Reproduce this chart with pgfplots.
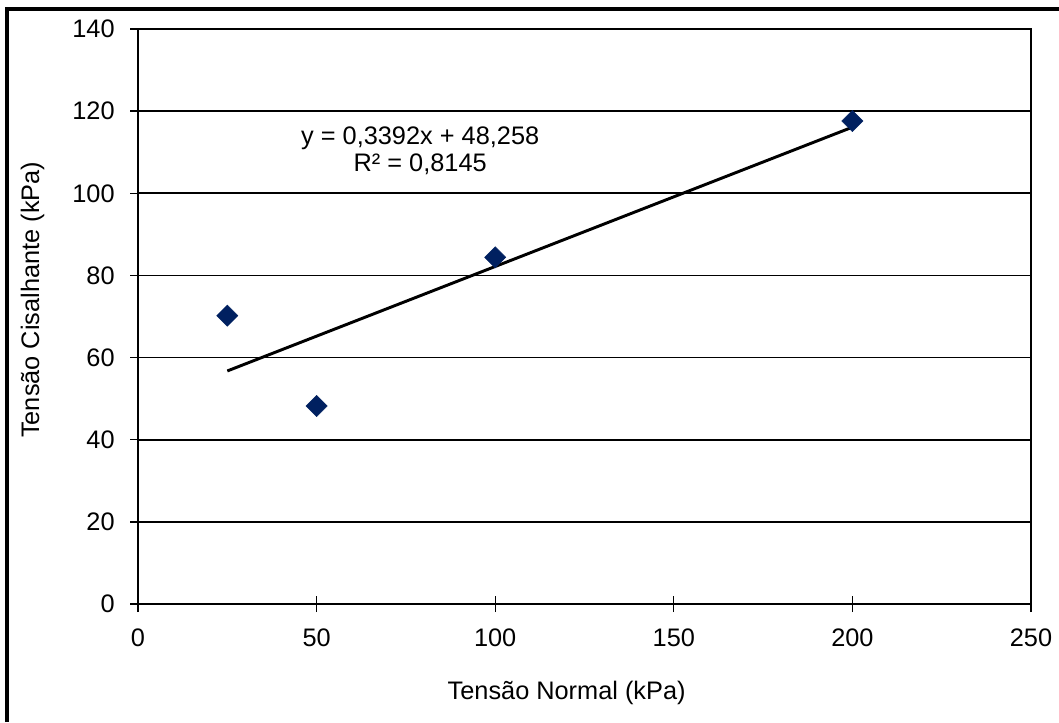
\documentclass[border=0pt]{standalone}
\usepackage{fontspec}
\setmainfont{Liberation Sans}
\usepackage{pgfplots}
\pgfplotsset{compat=1.18}
\definecolor{navy}{RGB}{0,32,96}
\begin{document}
\fontsize{19}{22}\selectfont
\begin{tikzpicture}
\path[use as bounding box] (0,0) rectangle (794.25pt,541.5pt);
\draw[line width=3pt] (5.6pt,0) -- (5.6pt,534.5pt) -- (794.25pt,534.5pt);
\begin{axis}[
  at={(103.5pt,88.5pt)}, anchor=south west,
  width=669.75pt, height=431.25pt, scale only axis,
  xmin=0, xmax=250, ymin=0, ymax=140,
  xtick={0,50,...,250}, ytick={0,20,...,140},
  ymajorgrids, grid style={black, line width=1.3pt},
  axis line style={line width=1.3pt},
  tick style={black, line width=1pt},
  tick align=center, major tick length=12pt,
  tick pos=left,
  /pgf/number format/assume math mode=true,
  ticklabel style={font=\fontsize{19}{22}\selectfont},
  yticklabel style={xshift=-5pt},
  xticklabel style={yshift=-6pt},
  xlabel={Tensão Normal (kPa)},
  ylabel={Tensão Cisalhante (kPa)},
  xlabel style={at={(axis description cs:0.48,-0.155)}, anchor=center},
  ylabel style={at={(axis description cs:-0.118,0.529)}, anchor=center},
  clip=false,
]
\addplot[only marks, mark=square*, mark size=5.6pt, mark options={rotate=45, fill=navy, draw=navy}]
  coordinates {(25,70.2) (50,48.2) (100,84.4) (200,117.6)};
\addplot[black, line width=2.2pt] coordinates {(25,56.738) (200,116.098)};
\node[align=center, font=\fontsize{19}{20.3}\selectfont] at (axis cs:79,110.3) {y = 0,3392x + 48,258\\R² = 0,8145};
\end{axis}
\end{tikzpicture}
\end{document}
